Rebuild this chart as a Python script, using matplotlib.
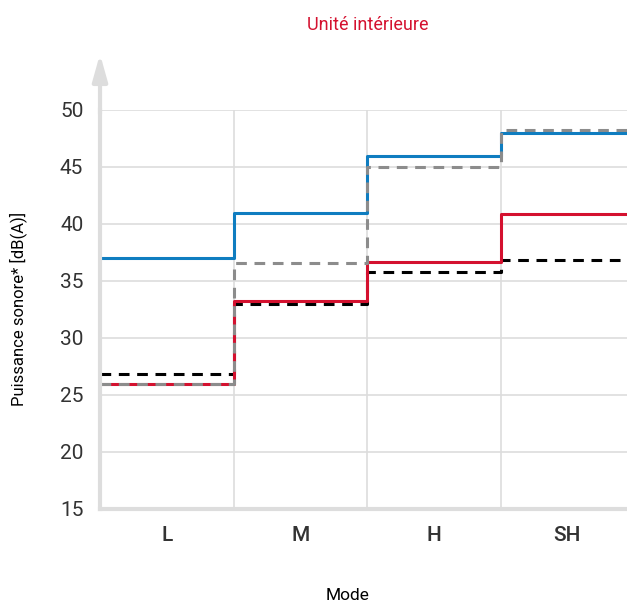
import matplotlib as mpl

mpl.use("Agg")
import matplotlib.pyplot as plt
import numpy as np

# data
modes = ["L", "M", "H", "SH"]
blue_vals = [37.0, 41.0, 46.0, 48.0]
red_vals = [26.0, 33.2, 36.7, 40.9]
gray_vals = [26.0, 36.6, 45.0, 48.2]
black_vals = [26.8, 33.0, 35.8, 36.8]
y_ticks = [15, 20, 25, 30, 35, 40, 45, 50]

plt.rcParams["font.family"] = ["Roboto", "DejaVu Sans"]

grid_color = "#dddddd"
text_color = "#333333"

fig = plt.figure(figsize=(6.27, 6.03), dpi=100)
ax = fig.add_axes([0.1595, 0.156, 0.852, 0.6617])

edges = np.arange(len(modes) + 1)


def step(vals, **kw):
    ax.step(edges, list(vals) + [vals[-1]], where="post", **kw)


step(black_vals, color="black", linewidth=2.2, linestyle=(0, (3.5, 2.5)))
step(blue_vals, color="#0f7dc0", linewidth=2.2)
step(red_vals, color="#d4112f", linewidth=2.2)
step(gray_vals, color="#8c8c8c", linewidth=2.2, linestyle=(0, (3.5, 2.5)))

ax.set_xlim(0, len(modes))
ax.set_ylim(15, 50)
ax.set_yticks(y_ticks)
ax.set_xticks(np.arange(len(modes)) + 0.5)
ax.set_xticklabels(modes, fontsize=15, color=text_color, fontweight="medium")
ax.tick_params(axis="y", labelsize=15, colors=text_color, length=0, pad=12)
ax.tick_params(axis="x", length=0, pad=12)
ax.yaxis.grid(True, color=grid_color, linewidth=1.2)
for xb in edges[1:-1]:
    ax.axvline(xb, color=grid_color, linewidth=1.2, zorder=0)
ax.set_axisbelow(True)

for side in ("top", "right"):
    ax.spines[side].set_visible(False)
for side in ("left", "bottom"):
    ax.spines[side].set_color(grid_color)
    ax.spines[side].set_linewidth(3)

# arrow on top of the y axis
ax.annotate(
    "",
    xy=(0, 1.14),
    xytext=(0, 0.99),
    xycoords="axes fraction",
    arrowprops=dict(arrowstyle="-|>,head_length=1.6,head_width=0.45",
                    color=grid_color, linewidth=3, shrinkA=0, shrinkB=0),
    annotation_clip=False,
)

ax.set_ylabel("Puissance sonore* [dB(A)]", fontsize=12, color="black")
ax.yaxis.set_label_coords(-0.137, 0.5)
fig.text(0.555, 1 - 595 / 603, "Mode", ha="center", va="center", fontsize=12.5)
fig.text(0.586, 1 - 25 / 603, "Unité intérieure", ha="center", va="center",
         fontsize=13, color="#d4112f")

fig.savefig("out.png", dpi=100)
